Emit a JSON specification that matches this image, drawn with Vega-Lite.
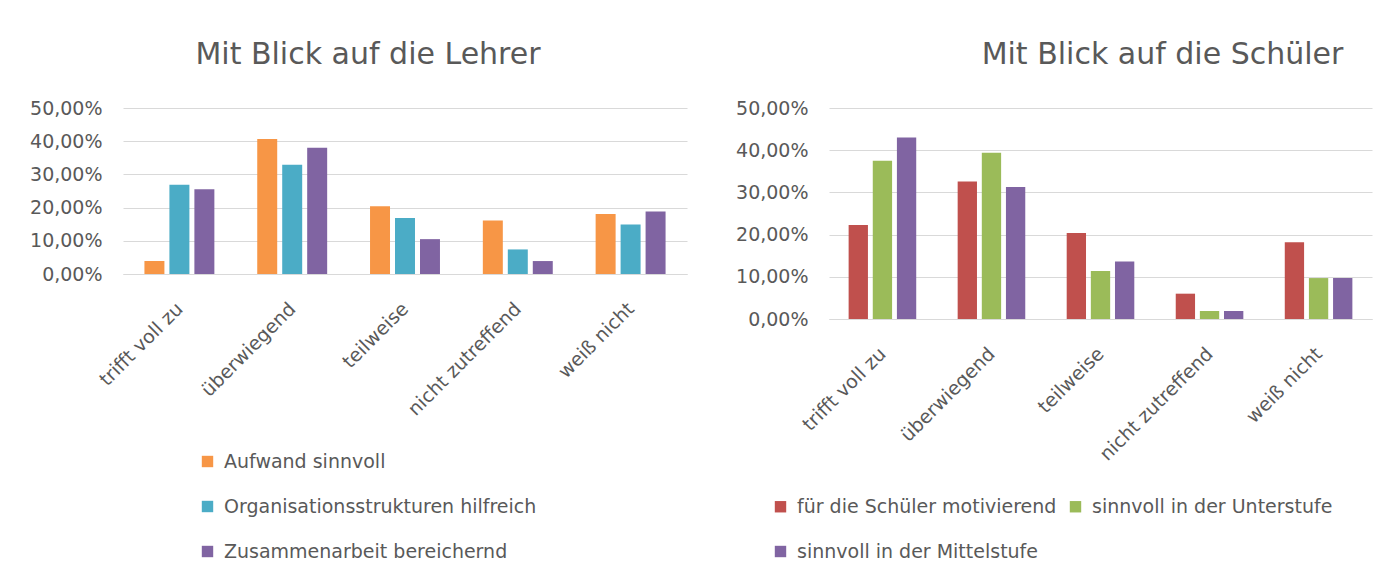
{
  "$schema": "https://vega.github.io/schema/vega-lite/v6.json",
  "background": "white",
  "padding": {"left": 29, "top": 40, "right": 5, "bottom": 5},
  "spacing": 48,
  "datasets": {
    "lehrer": [
      {"kategorie": "trifft voll zu", "serie": "Aufwand sinnvoll", "wert": 0.039},
      {"kategorie": "trifft voll zu", "serie": "Organisationsstrukturen hilfreich", "wert": 0.269},
      {"kategorie": "trifft voll zu", "serie": "Zusammenarbeit bereichernd", "wert": 0.255},
      {"kategorie": "überwiegend", "serie": "Aufwand sinnvoll", "wert": 0.407},
      {"kategorie": "überwiegend", "serie": "Organisationsstrukturen hilfreich", "wert": 0.329},
      {"kategorie": "überwiegend", "serie": "Zusammenarbeit bereichernd", "wert": 0.380},
      {"kategorie": "teilweise", "serie": "Aufwand sinnvoll", "wert": 0.204},
      {"kategorie": "teilweise", "serie": "Organisationsstrukturen hilfreich", "wert": 0.169},
      {"kategorie": "teilweise", "serie": "Zusammenarbeit bereichernd", "wert": 0.105},
      {"kategorie": "nicht zutreffend", "serie": "Aufwand sinnvoll", "wert": 0.161},
      {"kategorie": "nicht zutreffend", "serie": "Organisationsstrukturen hilfreich", "wert": 0.074},
      {"kategorie": "nicht zutreffend", "serie": "Zusammenarbeit bereichernd", "wert": 0.039},
      {"kategorie": "weiß nicht", "serie": "Aufwand sinnvoll", "wert": 0.181},
      {"kategorie": "weiß nicht", "serie": "Organisationsstrukturen hilfreich", "wert": 0.149},
      {"kategorie": "weiß nicht", "serie": "Zusammenarbeit bereichernd", "wert": 0.188}
    ],
    "schueler": [
      {"kategorie": "trifft voll zu", "serie": "für die Schüler motivierend", "wert": 0.223},
      {"kategorie": "trifft voll zu", "serie": "sinnvoll in der Unterstufe", "wert": 0.375},
      {"kategorie": "trifft voll zu", "serie": "sinnvoll in der Mittelstufe", "wert": 0.430},
      {"kategorie": "überwiegend", "serie": "für die Schüler motivierend", "wert": 0.326},
      {"kategorie": "überwiegend", "serie": "sinnvoll in der Unterstufe", "wert": 0.394},
      {"kategorie": "überwiegend", "serie": "sinnvoll in der Mittelstufe", "wert": 0.313},
      {"kategorie": "teilweise", "serie": "für die Schüler motivierend", "wert": 0.204},
      {"kategorie": "teilweise", "serie": "sinnvoll in der Unterstufe", "wert": 0.114},
      {"kategorie": "teilweise", "serie": "sinnvoll in der Mittelstufe", "wert": 0.136},
      {"kategorie": "nicht zutreffend", "serie": "für die Schüler motivierend", "wert": 0.060},
      {"kategorie": "nicht zutreffend", "serie": "sinnvoll in der Unterstufe", "wert": 0.019},
      {"kategorie": "nicht zutreffend", "serie": "sinnvoll in der Mittelstufe", "wert": 0.019},
      {"kategorie": "weiß nicht", "serie": "für die Schüler motivierend", "wert": 0.182},
      {"kategorie": "weiß nicht", "serie": "sinnvoll in der Unterstufe", "wert": 0.097},
      {"kategorie": "weiß nicht", "serie": "sinnvoll in der Mittelstufe", "wert": 0.097}
    ]
  },
  "hconcat": [
    {
      "width": 564,
      "height": 166,
      "data": {"name": "lehrer"},
      "title": {"text": "Mit Blick auf die Lehrer", "frame": "group", "anchor": "middle", "dx": -37, "offset": 29},
      "mark": {"type": "bar"},
      "encoding": {
        "x": {
          "field": "kategorie", "type": "nominal",
          "sort": ["trifft voll zu", "überwiegend", "teilweise", "nicht zutreffend", "weiß nicht"],
          "scale": {"paddingInner": 0.38, "paddingOuter": 0.19},
          "axis": {"title": null}
        },
        "xOffset": {
          "field": "serie", "type": "nominal",
          "sort": ["Aufwand sinnvoll", "Organisationsstrukturen hilfreich", "Zusammenarbeit bereichernd"],
          "scale": {"paddingInner": 0.2, "paddingOuter": 0}
        },
        "y": {
          "field": "wert", "type": "quantitative",
          "scale": {"domain": [0, 0.5]},
          "axis": {"title": null, "format": ".2%", "values": [0, 0.1, 0.2, 0.3, 0.4, 0.5]}
        },
        "color": {
          "field": "serie", "type": "nominal",
          "scale": {
            "domain": ["Aufwand sinnvoll", "Organisationsstrukturen hilfreich", "Zusammenarbeit bereichernd"],
            "range": ["#F79646", "#4BACC6", "#8064A2"]
          },
          "legend": {"title": null, "orient": "none", "legendX": 75, "legendY": 344, "direction": "vertical", "rowPadding": 25}
        }
      }
    },
    {
      "width": 543,
      "height": 211,
      "data": {"name": "schueler"},
      "title": {"text": "Mit Blick auf die Schüler", "frame": "group", "anchor": "middle", "dx": 62, "offset": 29},
      "mark": {"type": "bar"},
      "encoding": {
        "x": {
          "field": "kategorie", "type": "nominal",
          "sort": ["trifft voll zu", "überwiegend", "teilweise", "nicht zutreffend", "weiß nicht"],
          "scale": {"paddingInner": 0.38, "paddingOuter": 0.18},
          "axis": {"title": null}
        },
        "xOffset": {
          "field": "serie", "type": "nominal",
          "sort": ["für die Schüler motivierend", "sinnvoll in der Unterstufe", "sinnvoll in der Mittelstufe"],
          "scale": {"paddingInner": 0.2, "paddingOuter": 0}
        },
        "y": {
          "field": "wert", "type": "quantitative",
          "scale": {"domain": [0, 0.5]},
          "axis": {"title": null, "format": ".2%", "values": [0, 0.1, 0.2, 0.3, 0.4, 0.5]}
        },
        "color": {
          "field": "serie", "type": "nominal",
          "scale": {
            "domain": ["für die Schüler motivierend", "sinnvoll in der Unterstufe", "sinnvoll in der Mittelstufe"],
            "range": ["#C0504D", "#9BBB59", "#8064A2"]
          },
          "legend": {"title": null, "orient": "none", "legendX": -58, "legendY": 389, "direction": "horizontal", "columns": 2, "columnPadding": 9, "rowPadding": 25}
        }
      }
    }
  ],
  "resolve": {"scale": {"color": "independent", "x": "independent", "y": "independent", "xOffset": "independent"}, "legend": {"color": "independent"}},
  "config": {
    "locale": {"number": {"decimal": ",", "thousands": ".", "grouping": [3], "currency": ["", " €"]}},
    "font": "DejaVu Sans",
    "view": {"stroke": null},
    "title": {"font": "DejaVu Sans", "fontSize": 30, "fontWeight": "normal", "color": "#595959", "baseline": "alphabetic"},
    "axis": {
      "labelFont": "DejaVu Sans", "labelFontSize": 19, "labelColor": "#595959",
      "ticks": false, "gridColor": "#d9d9d9", "domainColor": "#d9d9d9"
    },
    "axisY": {"domain": false, "grid": true, "labelPadding": 21},
    "axisX": {"labelAngle": -45, "labelAlign": "right", "labelBaseline": "top", "labelPadding": 25, "labelOffset": -6, "grid": false, "domain": true},
    "legend": {
      "labelFont": "DejaVu Sans", "labelFontSize": 19, "labelColor": "#595959",
      "symbolType": "square", "symbolSize": 130, "symbolStrokeWidth": 0, "labelOffset": 7, "padding": 0, "labelLimit": 500
    }
  }
}
